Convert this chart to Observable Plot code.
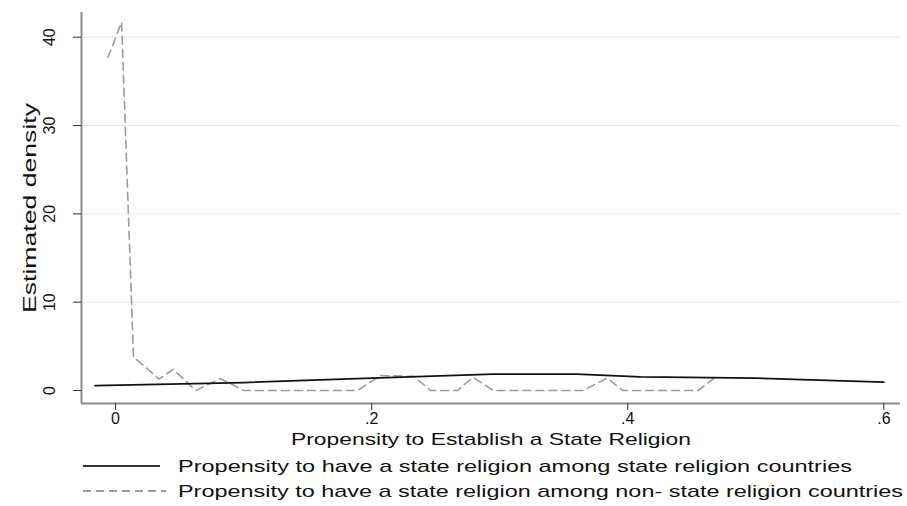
<!DOCTYPE html>
<html>
<head>
<meta charset="utf-8">
<script src="https://cdn.jsdelivr.net/npm/d3@7"></script>
<script src="https://cdn.jsdelivr.net/npm/@observablehq/plot@0.6"></script>
<style>
  html, body { margin: 0; padding: 0; background: #fff; }
  #chart { width: 907px; }
  svg text { font-family: "Liberation Sans", Arial, sans-serif; }
</style>
</head>
<body>
<div id="chart"></div>
<script>
// Data
const stateX = [-0.016, 0.1, 0.2, 0.295, 0.36, 0.41, 0.5, 0.6];
const stateY = [0.55, 0.9, 1.4, 1.85, 1.85, 1.55, 1.4, 0.95];

const nonStateX = [-0.006, 0.0047, 0.014, 0.034, 0.045, 0.0625, 0.082, 0.1, 0.189, 0.207, 0.233, 0.246, 0.267, 0.279, 0.295, 0.365, 0.384, 0.396, 0.455, 0.467];
const nonStateY = [37.7, 41.7, 3.8, 1.3, 2.4, 0, 1.35, 0, 0, 1.7, 1.6, 0, 0, 1.5, 0, 0, 1.4, 0, 0, 1.35];

const xTicks = [0, 0.2, 0.4, 0.6];
const xTickLabels = ["0", ".2", ".4", ".6"];
const yTicks = [0, 10, 20, 30, 40];
const yTickLabels = ["0", "10", "20", "30", "40"];

const xLabel = "Propensity to Establish a State Religion";
const yLabel = "Estimated density";
const seriesNames = [
  "Propensity to have a state religion among state religion countries",
  "Propensity to have a state religion among non- state religion countries"
];

const stateData = stateX.map((x, i) => ({x, y: stateY[i]}));
const nonStateData = nonStateX.map((x, i) => ({x, y: nonStateY[i]}));

const xDomain = [-0.0266, 0.613];
const yDomain = [-1.47, 42.8];

const plot = Plot.plot({
  width: 907,
  height: 448,
  marginLeft: 81,
  marginRight: 7,
  marginTop: 12,
  marginBottom: 45,
  x: {domain: xDomain},
  y: {domain: yDomain},
  style: {fontFamily: "Liberation Sans, Arial, sans-serif", background: "#fff"},
  marks: [
    Plot.ruleY(yTicks.filter(d => d > 0), {stroke: "#e6e6e6", strokeWidth: 1}),
    Plot.line(nonStateData, {x: "x", y: "y", stroke: "#9c9c9c", strokeWidth: 1.6, strokeDasharray: "8,5"}),
    Plot.line(stateData, {x: "x", y: "y", stroke: "#111", strokeWidth: 1.8}),
    Plot.ruleX([xDomain[0]], {stroke: "#8a8a8a", strokeWidth: 2}),
    Plot.ruleY([yDomain[0]], {stroke: "#8a8a8a", strokeWidth: 2}),
    Plot.axisX({
      ticks: xTicks,
      tickFormat: (d) => xTickLabels[xTicks.indexOf(d)],
      tickSize: 7,
      tickPadding: 2,
      fontSize: 16,
      stroke: "#333",
      label: xLabel,
      labelAnchor: "center",
      labelOffset: 41,
      labelArrow: "none"
    }),
    Plot.axisY({
      ticks: yTicks,
      tickFormat: (d) => yTickLabels[yTicks.indexOf(d)],
      tickSize: 8,
      tickPadding: 19,
      tickRotate: -90,
      fontSize: 16,
      stroke: "#333",
      label: yLabel,
      labelAnchor: "center",
      labelOffset: 58,
      labelArrow: "none"
    })
  ]
});

const sel = d3.select(plot);
sel.selectAll("text").attr("fill", "#111");
// stretch axis labels like the reference
sel.selectAll("text").filter(function() { return this.textContent === xLabel; })
  .attr("textLength", 400).attr("lengthAdjust", "spacingAndGlyphs").style("font-size", "17px");
sel.selectAll("text").filter(function() { return this.textContent === yLabel; })
  .attr("textLength", 210).attr("lengthAdjust", "spacingAndGlyphs").style("font-size", "18px");

document.getElementById("chart").appendChild(plot);

// Legend below the SVG
const leg = d3.select("#chart").append("svg")
  .attr("width", 907).attr("height", 58)
  .style("display", "block");
const rows = [
  {name: seriesNames[0], stroke: "#333", dash: null, x2: 160, len: 674},
  {name: seriesNames[1], stroke: "#9c9c9c", dash: "8,5", x2: 166, len: 725}
];
rows.forEach((r, i) => {
  const cy = 18 + i * 25;
  leg.append("line").attr("x1", 83).attr("x2", r.x2).attr("y1", cy).attr("y2", cy)
    .attr("stroke", r.stroke).attr("stroke-width", 2)
    .attr("stroke-dasharray", r.dash);
  leg.append("text").attr("x", 178).attr("y", cy + 6)
    .attr("font-size", 17).attr("fill", "#111")
    .attr("textLength", r.len).attr("lengthAdjust", "spacingAndGlyphs")
    .text(r.name);
});
</script>
</body>
</html>
